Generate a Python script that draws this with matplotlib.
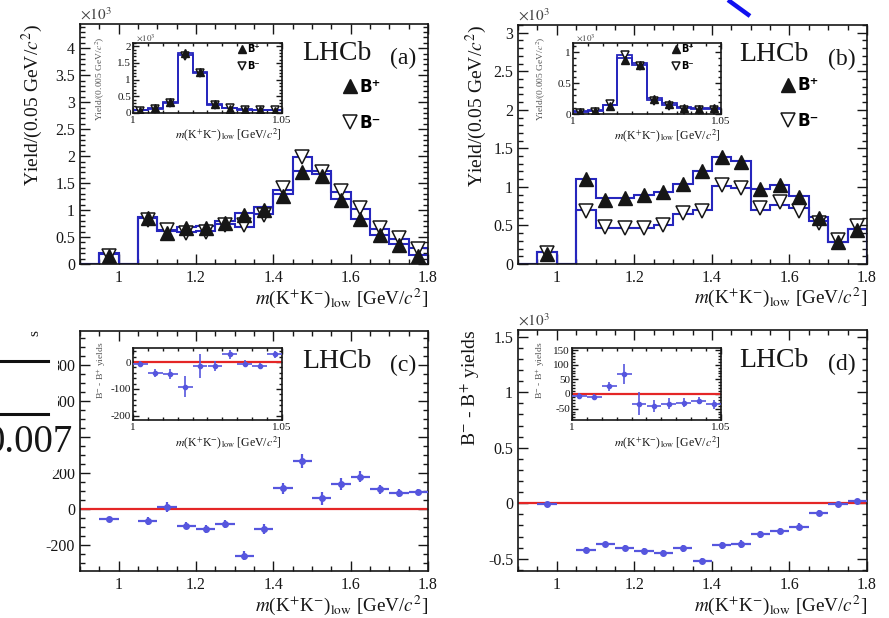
import matplotlib
matplotlib.use("Agg")
import matplotlib.pyplot as plt
from matplotlib.ticker import MultipleLocator, FuncFormatter
from matplotlib.lines import Line2D
from matplotlib.patches import Rectangle

plt.rcParams['font.family'] = ['Liberation Serif', 'DejaVu Serif']
plt.rcParams['mathtext.fontset'] = 'stix'
plt.rcParams['axes.unicode_minus'] = False

# ---------------- data ----------------
edges_main = [0.90, 0.95, 1.00, 1.05, 1.10, 1.15, 1.20, 1.25, 1.30, 1.35,
              1.40, 1.45, 1.50, 1.55, 1.60, 1.65, 1.70, 1.75, 1.80]
x_main = [0.975, 1.075, 1.125, 1.175, 1.225, 1.275, 1.325, 1.375,
          1.425, 1.475, 1.525, 1.575, 1.625, 1.675, 1.725, 1.775]
xerr_main = 0.025

# panel (a)  (x10^3)
a_fit_bp = [0, 0.20, 0, 0.88, 0.61, 0.68, 0.70, 0.80, 0.95, 1.05, 1.29, 1.72, 1.67, 1.20, 0.84, 0.53, 0.38, 0.17]
a_fit_bm = [0, 0.18, 0, 0.85, 0.63, 0.60, 0.61, 0.75, 0.69, 0.93, 1.38, 1.99, 1.72, 1.34, 1.02, 0.65, 0.47, 0.29]
a_bp = [0.15, 0.85, 0.58, 0.67, 0.67, 0.76, 0.91, 1.00, 1.27, 1.70, 1.63, 1.19, 0.83, 0.53, 0.36, 0.15]
a_bm = [0.14, 0.82, 0.63, 0.58, 0.60, 0.72, 0.73, 0.91, 1.41, 1.99, 1.71, 1.35, 1.03, 0.66, 0.49, 0.28]
a_err = [0.05, 0.05, 0.04, 0.04, 0.04, 0.04, 0.05, 0.05, 0.05, 0.06, 0.06, 0.05, 0.05, 0.04, 0.04, 0.04]

# panel (b)  (x10^3)
b_fit_bp = [0, 0.15, 0, 1.10, 0.85, 0.86, 0.89, 0.93, 1.04, 1.21, 1.39, 1.33, 0.97, 1.03, 0.88, 0.61, 0.29, 0.46]
b_fit_bm = [0, 0.15, 0, 0.70, 0.47, 0.47, 0.47, 0.50, 0.65, 0.70, 1.01, 0.99, 0.70, 0.77, 0.73, 0.56, 0.29, 0.45]
b_bp = [0.13, 1.10, 0.83, 0.85, 0.89, 0.93, 1.04, 1.20, 1.39, 1.32, 0.97, 1.03, 0.87, 0.60, 0.28, 0.44]
b_bm = [0.14, 0.69, 0.48, 0.47, 0.47, 0.50, 0.66, 0.69, 1.03, 0.99, 0.73, 0.80, 0.69, 0.53, 0.31, 0.49]
b_err = [0.04, 0.05, 0.04, 0.04, 0.04, 0.04, 0.05, 0.05, 0.05, 0.05, 0.05, 0.05, 0.04, 0.04, 0.03, 0.04]

# panel (c)  B- - B+ yields
c_diff = [-57, -67, 13, -93, -111, -83, -259, -113, 115, 267, 59, 139, 180, 109, 87, 93]
c_err = [12, 22, 28, 20, 22, 22, 25, 28, 32, 38, 35, 32, 30, 25, 22, 18]

# panel (d)  B- - B+ yields (x10^3)
d_diff = [-0.01, -0.42, -0.37, -0.40, -0.43, -0.45, -0.405, -0.52, -0.38, -0.37, -0.28, -0.25, -0.21, -0.087, -0.01, 0.02]
d_err = [0.015, 0.025, 0.025, 0.025, 0.025, 0.025, 0.03, 0.03, 0.035, 0.035, 0.03, 0.03, 0.03, 0.025, 0.02, 0.02]

# insets: 1.000 - 1.050 GeV/c^2
edges_in = [1.000, 1.005, 1.010, 1.015, 1.020, 1.025, 1.030, 1.035, 1.040, 1.045, 1.050]
x_in = [1.0025, 1.0075, 1.0125, 1.0175, 1.0225, 1.0275, 1.0325, 1.0375, 1.0425, 1.0475]
xerr_in = 0.0025

ia_fit_bp = [0.09, 0.16, 0.33, 1.79, 1.24, 0.27, 0.14, 0.11, 0.10, 0.08]
ia_fit_bm = [0.08, 0.13, 0.31, 1.74, 1.21, 0.24, 0.14, 0.10, 0.09, 0.08]
ia_bp = [0.07, 0.15, 0.34, 1.80, 1.23, 0.26, 0.12, 0.10, 0.10, 0.06]
ia_bm = [0.06, 0.11, 0.30, 1.71, 1.21, 0.24, 0.15, 0.09, 0.09, 0.09]
ia_err = [0.02, 0.03, 0.03, 0.05, 0.04, 0.03, 0.02, 0.02, 0.02, 0.02]

ib_fit_bp = [0.05, 0.06, 0.15, 0.95, 0.83, 0.26, 0.18, 0.12, 0.10, 0.10]
ib_fit_bm = [0.04, 0.05, 0.14, 0.90, 0.80, 0.23, 0.15, 0.10, 0.08, 0.08]
ib_bp = [0.03, 0.05, 0.13, 0.88, 0.80, 0.25, 0.16, 0.10, 0.08, 0.09]
ib_bm = [0.02, 0.04, 0.16, 0.95, 0.77, 0.21, 0.13, 0.07, 0.06, 0.06]
ib_err = [0.02, 0.02, 0.02, 0.04, 0.03, 0.02, 0.02, 0.02, 0.02, 0.02]

ic_diff = [-6, -41, -45, -91, -16, -16, 28, -6, -14, 28]
ic_err = [8, 15, 18, 40, 45, 18, 18, 12, 12, 12]

id_diff = [-7, -9, 26, 69, -33, -42, -33, -30, -23, -35]
id_err = [10, 10, 15, 35, 40, 20, 18, 15, 12, 15]

xlabel = r"$m$(K$^{+}$K$^{-}$)$_{\rm low}$ [GeV/$c^{2}$]"
ylabel_yield = r"Yield/(0.05 GeV/$c^{2}$)"
ylabel_yield_in = r"Yield/(0.005 GeV/$c^{2}$)"
ylabel_diff = r"B$^{-}$ - B$^{+}$ yields"
lab_bp = "B\u207a"
lab_bm = "B\u207b"

# ---------------- style ----------------
W, H = 889, 618
fig = plt.figure(figsize=(W / 100, H / 100), dpi=100)

FIT = '#2626bd'
DIFF = '#5656de'
RED = '#e42626'
TXT = '#161616'


def rect(l, t, r, b):
    return [l / W, 1 - b / H, (r - l) / W, (b - t) / H]


fmt = FuncFormatter(lambda v, p: "0" if abs(v) < 1e-9 else f"{v:g}")


def style(ax, xmaj, xmin, ymaj, ymin, fs, lmaj, lmin, xpad=4.0, ypad=3.5):
    ax.xaxis.set_major_locator(MultipleLocator(xmaj))
    ax.xaxis.set_minor_locator(MultipleLocator(xmin))
    ax.yaxis.set_major_locator(MultipleLocator(ymaj))
    ax.yaxis.set_minor_locator(MultipleLocator(ymin))
    ax.xaxis.set_major_formatter(fmt)
    ax.yaxis.set_major_formatter(fmt)
    ax.tick_params(which='both', direction='in', top=True, right=True,
                   labelsize=fs, colors=TXT, width=1.0)
    ax.tick_params(which='major', length=lmaj)
    ax.tick_params(which='minor', length=lmin)
    ax.tick_params(axis='x', pad=xpad)
    ax.tick_params(axis='y', pad=ypad)
    for s in ax.spines.values():
        s.set_linewidth(1.2)
        s.set_color(TXT)


def yield_panel(ax, fit_bp, fit_bm, bp, bm, err, edges, xs, ms, lw, elw):
    ax.stairs(fit_bm, edges, color=FIT, lw=lw, baseline=0, zorder=2)
    ax.stairs(fit_bp, edges, color=FIT, lw=lw, baseline=0, zorder=2)
    ax.errorbar(xs, bm, yerr=err, fmt='v', ms=ms, mfc='white', mec=TXT, mew=1.1,
                ecolor=TXT, elinewidth=elw, capsize=0, zorder=3)
    ax.errorbar(xs, bp, yerr=err, fmt='^', ms=ms, mfc=TXT, mec=TXT,
                ecolor=TXT, elinewidth=elw, capsize=0, zorder=4)


def diff_panel(ax, xs, ys, yerr, xerr, ms, elw):
    ax.axhline(0, color=RED, lw=1.6, zorder=2)
    ax.errorbar(xs, ys, xerr=xerr, yerr=yerr, fmt='o', ms=ms, color=DIFF,
                elinewidth=elw, capsize=0, zorder=3)


def legend(ax, fs, ms, anchor, spacing):
    hs = [Line2D([], [], ls='none', marker='^', ms=ms, mfc=TXT, mec=TXT),
          Line2D([], [], ls='none', marker='v', ms=ms, mfc='white', mec=TXT, mew=1.1)]
    ax.legend(hs, [lab_bp, lab_bm], loc='upper left', bbox_to_anchor=anchor,
              frameon=False, borderpad=0, borderaxespad=0, handlelength=1.0,
              handletextpad=0.05, labelspacing=spacing,
              prop={'family': 'DejaVu Sans', 'weight': 'bold', 'size': fs})


def main_labels(ax, tag, ylab, ylab_x, lhcb_x, x10=True):
    ax.text(1.0, -0.165, xlabel, transform=ax.transAxes, ha='right', va='baseline',
            fontsize=13.8, color=TXT)
    if ylab:
        ax.text(ylab_x, 1.0, ylab, transform=ax.transAxes, rotation=90, ha='center',
                va='top', fontsize=14, color=TXT)
    if x10:
        ax.text(0.0, 1.005, r"$\times10^{3}$", transform=ax.transAxes, ha='left',
                va='bottom', fontsize=11, color='#444444')
    ax.text(lhcb_x, 0.875, "LHCb", transform=ax.transAxes, ha='center', va='center',
            fontsize=20, color=TXT)
    ax.text(0.967, 0.855, tag, transform=ax.transAxes, ha='right', va='center',
            fontsize=17, color=TXT)


def inset_labels(ax, ylab, x10=True):
    ax.text(1.0, -0.36, xlabel, transform=ax.transAxes, ha='right', va='baseline',
            fontsize=8.5, color=TXT)
    ax.text(-0.215, 1.09, ylab, transform=ax.transAxes, rotation=90, ha='center',
            va='top', fontsize=6.8, color='#555555')
    if x10:
        ax.text(0.02, 1.0, r"$\times10^{3}$", transform=ax.transAxes, ha='left',
                va='bottom', fontsize=6.5, color='#444444')


# ---------------- panel (a) ----------------
axa = fig.add_axes(rect(80, 24, 428, 264))
yield_panel(axa, a_fit_bp, a_fit_bm, a_bp, a_bm, a_err, edges_main, x_main, 10, 1.5, 1.0)
axa.set_xlim(0.9, 1.8)
axa.set_ylim(0, 4.45)
style(axa, 0.2, 0.05, 0.5, 0.1, 11.5, 7, 3.5)
main_labels(axa, "(a)", ylabel_yield, -0.138, 0.738)
legend(axa, 12, 9.5, (0.753, 0.775), 1.05)

ina = fig.add_axes(rect(133, 43, 282, 113))
yield_panel(ina, ia_fit_bp, ia_fit_bm, ia_bp, ia_bm, ia_err, edges_in, x_in, 5.5, 1.3, 0.8)
ina.set_xlim(1.0, 1.05)
ina.set_ylim(0, 2.1)
style(ina, 0.05, 0.005, 0.5, 0.1, 8, 4, 2, xpad=2, ypad=1.5)
inset_labels(ina, ylabel_yield_in)
legend(ina, 7, 5.5, (0.70, 0.98), 0.7)

# ---------------- panel (b) ----------------
axb = fig.add_axes(rect(518, 25, 867, 264))
yield_panel(axb, b_fit_bp, b_fit_bm, b_bp, b_bm, b_err, edges_main, x_main, 10, 1.5, 1.0)
axb.set_xlim(0.9, 1.8)
axb.set_ylim(0, 3.1)
style(axb, 0.2, 0.05, 0.5, 0.1, 11.5, 7, 3.5)
main_labels(axb, "(b)", ylabel_yield, -0.12, 0.733)
legend(axb, 12, 9.5, (0.75, 0.785), 1.05)

inb = fig.add_axes(rect(573, 43, 721, 114))
yield_panel(inb, ib_fit_bp, ib_fit_bm, ib_bp, ib_bm, ib_err, edges_in, x_in, 5.5, 1.3, 0.8)
inb.set_xlim(1.0, 1.05)
inb.set_ylim(0, 1.15)
style(inb, 0.05, 0.005, 0.5, 0.1, 8, 4, 2, xpad=2, ypad=1.5)
inset_labels(inb, ylabel_yield_in)
legend(inb, 7, 5.5, (0.66, 0.98), 0.7)

# ---------------- panel (c) ----------------
axc = fig.add_axes(rect(80, 331, 428, 571))
diff_panel(axc, x_main, c_diff, c_err, xerr_main, 4, 1.6)
axc.set_xlim(0.9, 1.8)
axc.set_ylim(-345, 990)
style(axc, 0.2, 0.05, 200, 50, 11.5, 7, 3.5)
main_labels(axc, "(c)", None, 0, 0.738, x10=False)

inc = fig.add_axes(rect(133, 348, 282, 420))
diff_panel(inc, x_in, ic_diff, ic_err, xerr_in, 3, 1.2)
inc.set_xlim(1.0, 1.05)
inc.set_ylim(-215, 52)
style(inc, 0.05, 0.005, 100, 20, 8, 4, 2, xpad=2, ypad=1.5)
inset_labels(inc, ylabel_diff, x10=False)

# ---------------- panel (d) ----------------
axd = fig.add_axes(rect(518, 330, 867, 571))
diff_panel(axd, x_main, d_diff, d_err, xerr_main, 4, 1.6)
axd.set_xlim(0.9, 1.8)
axd.set_ylim(-0.61, 1.56)
style(axd, 0.2, 0.05, 0.5, 0.1, 11.5, 7, 3.5)
main_labels(axd, "(d)", ylabel_diff, -0.138, 0.733)

ind = fig.add_axes(rect(572, 348, 721, 420))
diff_panel(ind, x_in, id_diff, id_err, xerr_in, 3, 1.2)
ind.set_xlim(1.0, 1.05)
ind.set_ylim(-89, 157)
style(ind, 0.05, 0.005, 50, 10, 8, 4, 2, xpad=2, ypad=1.5)
inset_labels(ind, ylabel_diff, x10=False)

# ---------------- overlay remnants from the slide ----------------
def fpx(x, y):
    return (x / W, 1 - y / H)

fig.add_artist(Rectangle(fpx(0, 470), 58 / W, 165 / H, transform=fig.transFigure,
                         facecolor='white', edgecolor='none', zorder=20))
fig.add_artist(Rectangle(fpx(0, 469), 78 / W, 50 / H, transform=fig.transFigure,
                         facecolor='white', edgecolor='none', zorder=20))
for yy in (361, 414):
    fig.add_artist(Line2D([0, 48 / W], [1 - yy / H, 1 - yy / H], transform=fig.transFigure,
                          color='#111111', lw=2.2, zorder=21))
fig.text(35 / W, 1 - 333 / H, "s", rotation=90, ha='center', va='center',
         fontsize=11, color=TXT, zorder=21)
fig.text(73 / W, 1 - 443 / H, "0.007", ha='right', va='center',
         fontsize=28, color=TXT, zorder=21)
fig.add_artist(Line2D([728 / W, 750 / W], [1.0, 1 - 16 / H], transform=fig.transFigure,
                      color='#1010f0', lw=3.2, solid_capstyle='butt', zorder=21))

fig.savefig("out.png", dpi=100)
